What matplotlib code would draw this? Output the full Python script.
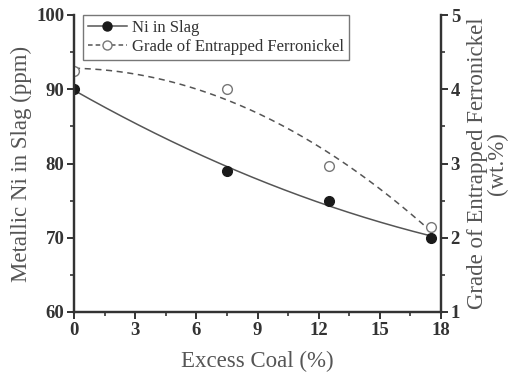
import numpy as np
import matplotlib
matplotlib.use("Agg")
import matplotlib.pyplot as plt
from matplotlib.ticker import MultipleLocator

# data
coal = [0, 7.5, 12.5, 17.5]
ni_slag = [90, 79, 75, 70]
grade = [4.25, 4.0, 2.97, 2.15]

plt.rcParams['font.family'] = ['Liberation Serif', 'DejaVu Serif']

fig = plt.figure(figsize=(5.12, 3.8), dpi=100)
ax = fig.add_axes([74/512, 1 - 312/380, (441-74)/512, (312-15)/380])
ax2 = ax.twinx()

# smooth fitted curves
xs = np.linspace(0, 17.5, 200)
p1 = np.polyfit(coal, ni_slag, 2)
p2 = np.polyfit(coal, grade, 2)

ax.plot(xs, np.polyval(p1, xs), color='#555555', lw=1.1)
ax.plot(coal, ni_slag, 'o', color='#1a1a1a', ms=7)
ax2.plot(xs, np.polyval(p2, xs), color='#555555', lw=1.1, ls=(0, (4, 3)))
ax2.plot(coal, grade, 'o', mfc='white', mec='#777777', ms=7, mew=1)

# legend proxies
h1, = ax.plot([], [], '-o', color='#555555', mfc='#1a1a1a', mec='#1a1a1a', ms=6.5, lw=1.1)
h2, = ax.plot([], [], ls=(0, (3, 2)), marker='o', color='#555555', mfc='white', mec='#777777', ms=6.5, lw=1.1)
leg = ax.legend([h1, h2], ['Ni in Slag', 'Grade of Entrapped Ferronickel'],
                loc='upper left', bbox_to_anchor=(0.025, 1.0), borderaxespad=0,
                fontsize=12, frameon=True, fancybox=False, edgecolor='#555555',
                handlelength=2.3, borderpad=0.3, labelspacing=0.2, handletextpad=0.3)
leg.get_frame().set_linewidth(1.0)
for t in leg.get_texts():
    t.set_color('#333333')

ax.set_xlim(0, 18)
ax.set_ylim(60, 100)
ax2.set_ylim(1, 5)
ax.xaxis.set_major_locator(MultipleLocator(3))
ax.xaxis.set_minor_locator(MultipleLocator(1.5))
ax.yaxis.set_major_locator(MultipleLocator(10))
ax.yaxis.set_minor_locator(MultipleLocator(5))
ax2.yaxis.set_major_locator(MultipleLocator(1))
ax2.yaxis.set_minor_locator(MultipleLocator(0.5))

for a in (ax, ax2):
    a.spines['top'].set_visible(False)
    for s in a.spines.values():
        s.set_linewidth(1.6)
        s.set_color('#333333')
    a.tick_params(which='major', direction='out', length=5, width=1.4, colors='#333333',
                  labelsize=13.5, pad=2)
    a.tick_params(which='minor', direction='out', length=3, width=1.2, colors='#333333')
    for lab in a.get_xticklabels() + a.get_yticklabels():
        lab.set_fontweight('bold')

ax.set_xlabel('Excess Coal (%)', fontsize=16.5, color='#555555', labelpad=9)
ax.set_ylabel('Metallic Ni in Slag (ppm)', fontsize=16.5, color='#555555', labelpad=3)
ax2.set_ylabel('Grade of Entrapped Ferronickel\n(wt.%)', fontsize=16.5, color='#555555',
               labelpad=5, linespacing=0.9)

fig.savefig('out.png', dpi=100)
